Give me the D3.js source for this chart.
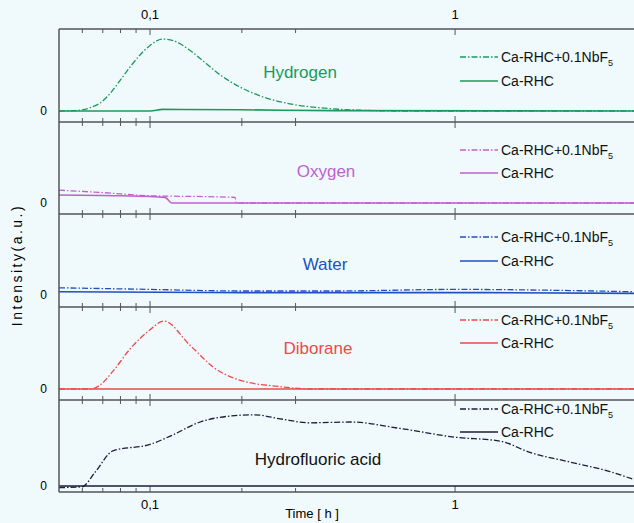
<!DOCTYPE html><html><head><meta charset="utf-8"><script src="https://cdn.jsdelivr.net/npm/d3@7"></script>
<style>body{margin:0;background:#fff}text{font-family:"Liberation Sans",Arial,sans-serif}</style></head><body><svg id="c" width="634" height="523"></svg>
<script>
const panels=["Hydrogen","Oxygen","Water","Diborane","Hydrofluoric acid"];
const colors=["#1a9a5a","#c060d0","#2050c0","#f04848","#1c1c3c"];
const seriesNames=["Ca-RHC+0.1NbF\u2085","Ca-RHC"];
const nbH=[[0.0503,0],[0.0568,0.005],[0.0636,0.04],[0.0686,0.1],[0.074,0.22],[0.0797,0.38],[0.086,0.55],[0.0927,0.7],[0.1,0.82],[0.11,0.9],[0.121,0.87],[0.135,0.76],[0.151,0.61],[0.17,0.45],[0.197,0.3],[0.229,0.19],[0.287,0.09],[0.361,0.04],[0.488,0.01],[0.66,0],[3.86,0]];
const caH=[[0.0503,0],[0.1,0],[0.11,0.02],[0.2,0.015],[0.4,0.005],[3.86,0]];
const nbO=[[0.0503,0.16],[0.07,0.13],[0.1,0.09],[0.15,0.08],[0.19,0.07],[0.192,0.0],[3.86,0]];
const caO=[[0.0503,0.1],[0.08,0.09],[0.112,0.07],[0.118,0.0],[3.86,0]];
const nbW=[[0.0503,0.09],[0.1,0.07],[0.2,0.05],[0.4,0.05],[1,0.07],[2,0.06],[3.86,0.04]];
const caW=[[0.0503,0.04],[0.2,0.03],[1,0.03],[3.86,0.02]];
const nbD=[[0.0503,0],[0.064,0],[0.0686,0.05],[0.0755,0.22],[0.086,0.5],[0.1,0.74],[0.111,0.85],[0.135,0.55],[0.163,0.26],[0.197,0.11],[0.267,0.03],[0.336,0],[3.86,0]];
const caD=[[0.0503,0],[3.86,0]];
const nbF=[[0.0503,-0.02],[0.0598,-0.01],[0.066,0.17],[0.0756,0.44],[0.1,0.52],[0.116,0.62],[0.146,0.8],[0.19,0.88],[0.22,0.89],[0.267,0.84],[0.334,0.79],[0.453,0.8],[0.66,0.72],[1.0,0.61],[1.41,0.56],[1.76,0.42],[2.38,0.3],[3.22,0.18],[3.86,0.08]];
const caF=[[0.0503,0],[3.86,0]];
const data=[[nbH,caH],[nbO,caO],[nbW,caW],[nbD,caD],[nbF,caF]];
const bounds=[29,122,214,307,400,492];
const zeroY=[111,203,295,389,486];
const legY=[[62,86],[155,178],[242,266],[325,348],[414,437]];
const labelPos=[[300,78],[326,177],[325,270],[318,354],[318,465]];
const svg=d3.select("#c");
svg.append("rect").attr("width",634).attr("height",523).attr("fill","#f0fafc");
const x=d3.scaleLog().domain([0.0503,3.86]).range([59,634]);
const minor=[0.06,0.07,0.08,0.09,0.1,0.2,0.3,1];
const ax="#555";
panels.forEach((p,i)=>{
  const y=d3.scaleLinear().domain([0,1]).range([zeroY[i],zeroY[i]-80]);
  const top=bounds[i],bot=bounds[i+1];
  const g=svg.append("g");
  g.append("line").attr("x1",59).attr("x2",634).attr("y1",bot).attr("y2",bot).attr("stroke",ax).attr("stroke-width",1.5);
  minor.forEach(t=>{const L=(t==0.1||t==1)?6:4;
    g.append("line").attr("x1",x(t)).attr("x2",x(t)).attr("y1",bot).attr("y2",bot-L).attr("stroke",ax);
    g.append("line").attr("x1",x(t)).attr("x2",x(t)).attr("y1",top).attr("y2",top+L).attr("stroke",ax);});
  g.append("text").attr("x",47).attr("y",zeroY[i]+4).attr("text-anchor","end").attr("font-size",12).text("0");
  const line=d3.line().x(d=>x(d[0])).y(d=>y(d[1])).curve(d3.curveMonotoneX);
  data[i].forEach((s,k)=>{
    g.append("path").attr("d",line(s)).attr("fill","none").attr("stroke",colors[i]).attr("stroke-width",k?1.6:1.3).attr("stroke-dasharray",k?null:"6,2,1.5,2");
    g.append("line").attr("x1",460).attr("x2",498).attr("y1",legY[i][k]-5).attr("y2",legY[i][k]-5).attr("stroke",colors[i]).attr("stroke-width",k?1.6:1.3).attr("stroke-dasharray",k?null:"6,2,1.5,2");
    const t=g.append("text").attr("x",501).attr("y",legY[i][k]).attr("font-size",14).attr("fill","#111");
    if(k){t.text(seriesNames[1]);}else{t.text("Ca-RHC+0.1NbF");t.append("tspan").attr("font-size",9).attr("dy",4).text("5");}
  });
  g.append("text").attr("x",labelPos[i][0]).attr("y",labelPos[i][1]).attr("text-anchor","middle").attr("font-size",17).attr("fill",i==4?"#111":colors[i]).text(p);
});
svg.append("line").attr("x1",59).attr("x2",634).attr("y1",29).attr("y2",29).attr("stroke",ax).attr("stroke-width",1.5);
svg.append("line").attr("x1",59).attr("x2",59).attr("y1",29).attr("y2",492).attr("stroke",ax).attr("stroke-width",1.5);
[[0.1,"0,1"],[1,"1"]].forEach(([t,l])=>{
  svg.append("text").attr("x",x(t)).attr("y",19).attr("text-anchor","middle").attr("font-size",13).text(l);
  svg.append("text").attr("x",x(t)).attr("y",509).attr("text-anchor","middle").attr("font-size",13).text(l);});
svg.append("text").attr("x",312).attr("y",518).attr("text-anchor","middle").attr("font-size",13).text("Time [ h ]");
svg.append("text").attr("transform","translate(22,265) rotate(-90)").attr("text-anchor","middle").attr("font-size",14).attr("letter-spacing",2.5).text("Intensity(a.u.)");
</script></body></html>
